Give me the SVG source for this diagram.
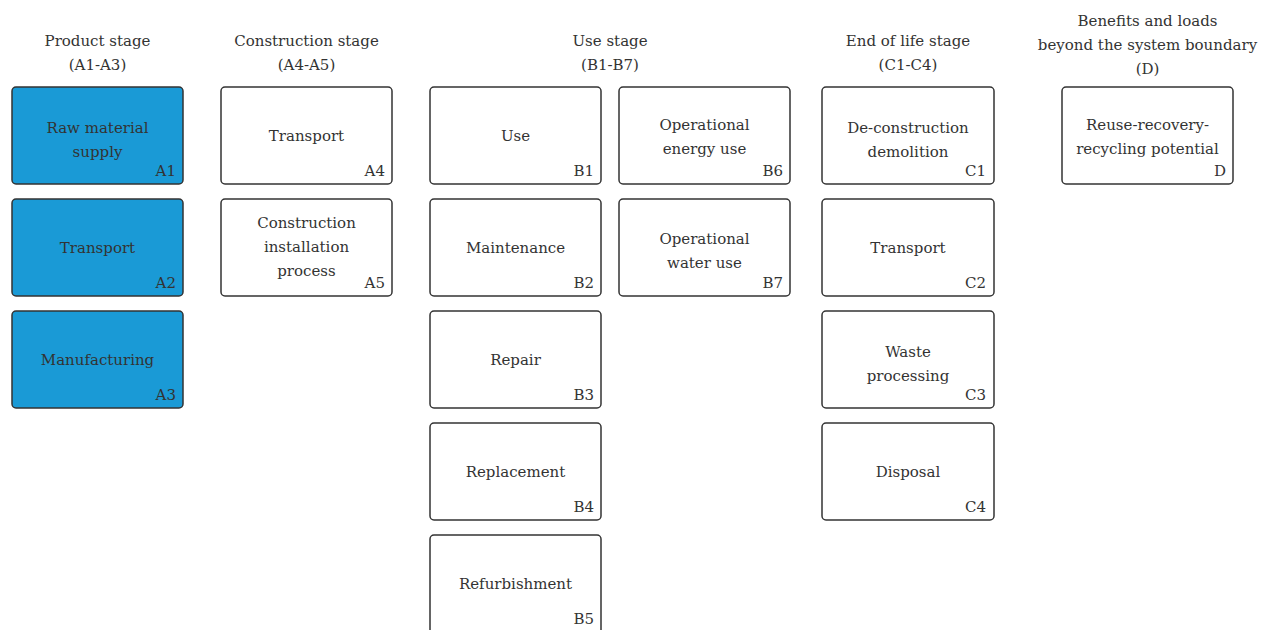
<svg xmlns="http://www.w3.org/2000/svg" width="1266" height="630" viewBox="0 0 1266 630">
<style>
text{font-family:"DejaVu Serif","Liberation Serif",serif;font-size:15px;fill:#333}
.h{text-anchor:middle}
.t{text-anchor:middle}
.c{text-anchor:end}
.b,.w{stroke:#333;stroke-width:1.5}
.b{fill:#1a9ad6}
.w{fill:#fff}
</style>
<rect x="0" y="0" width="1266" height="630" fill="#fff"/>
<g id="headers">
<text class="h" x="97.5" y="46">Product stage</text>
<text class="h" x="97.5" y="70">(A1-A3)</text>
<text class="h" x="306.5" y="46">Construction stage</text>
<text class="h" x="306.5" y="70">(A4-A5)</text>
<text class="h" x="610" y="46">Use stage</text>
<text class="h" x="610" y="70">(B1-B7)</text>
<text class="h" x="908" y="46">End of life stage</text>
<text class="h" x="908" y="70">(C1-C4)</text>
<text class="h" x="1147.5" y="26">Benefits and loads</text>
<text class="h" x="1147.5" y="50">beyond the system boundary</text>
<text class="h" x="1147.5" y="74">(D)</text>
</g>
<g id="A1"><rect class="b" x="12" y="87" width="171" height="97" rx="4"/><text class="t" x="97.5" y="133">Raw material</text><text class="t" x="97.5" y="157">supply</text><text class="c" x="176" y="176">A1</text></g>
<g id="A2"><rect class="b" x="12" y="199" width="171" height="97" rx="4"/><text class="t" x="97.5" y="253">Transport</text><text class="c" x="176" y="288">A2</text></g>
<g id="A3"><rect class="b" x="12" y="311" width="171" height="97" rx="4"/><text class="t" x="97.5" y="365">Manufacturing</text><text class="c" x="176" y="400">A3</text></g>
<g id="A4"><rect class="w" x="221" y="87" width="171" height="97" rx="4"/><text class="t" x="306.5" y="141">Transport</text><text class="c" x="385" y="176">A4</text></g>
<g id="A5"><rect class="w" x="221" y="199" width="171" height="97" rx="4"/><text class="t" x="306.5" y="228">Construction</text><text class="t" x="306.5" y="252">installation</text><text class="t" x="306.5" y="276">process</text><text class="c" x="385" y="288">A5</text></g>
<g id="B1"><rect class="w" x="430" y="87" width="171" height="97" rx="4"/><text class="t" x="515.5" y="141">Use</text><text class="c" x="594" y="176">B1</text></g>
<g id="B2"><rect class="w" x="430" y="199" width="171" height="97" rx="4"/><text class="t" x="515.5" y="253">Maintenance</text><text class="c" x="594" y="288">B2</text></g>
<g id="B3"><rect class="w" x="430" y="311" width="171" height="97" rx="4"/><text class="t" x="515.5" y="365">Repair</text><text class="c" x="594" y="400">B3</text></g>
<g id="B4"><rect class="w" x="430" y="423" width="171" height="97" rx="4"/><text class="t" x="515.5" y="477">Replacement</text><text class="c" x="594" y="512">B4</text></g>
<g id="B5"><rect class="w" x="430" y="535" width="171" height="110" rx="4"/><text class="t" x="515.5" y="589">Refurbishment</text><text class="c" x="594" y="624">B5</text></g>
<g id="B6"><rect class="w" x="619" y="87" width="171" height="97" rx="4"/><text class="t" x="704.5" y="130">Operational</text><text class="t" x="704.5" y="154">energy use</text><text class="c" x="783" y="176">B6</text></g>
<g id="B7"><rect class="w" x="619" y="199" width="171" height="97" rx="4"/><text class="t" x="704.5" y="244">Operational</text><text class="t" x="704.5" y="268">water use</text><text class="c" x="783" y="288">B7</text></g>
<g id="C1"><rect class="w" x="822" y="87" width="172" height="97" rx="4"/><text class="t" x="908" y="133">De-construction</text><text class="t" x="908" y="157">demolition</text><text class="c" x="986" y="176">C1</text></g>
<g id="C2"><rect class="w" x="822" y="199" width="172" height="97" rx="4"/><text class="t" x="908" y="253">Transport</text><text class="c" x="986" y="288">C2</text></g>
<g id="C3"><rect class="w" x="822" y="311" width="172" height="97" rx="4"/><text class="t" x="908" y="357">Waste</text><text class="t" x="908" y="381">processing</text><text class="c" x="986" y="400">C3</text></g>
<g id="C4"><rect class="w" x="822" y="423" width="172" height="97" rx="4"/><text class="t" x="908" y="477">Disposal</text><text class="c" x="986" y="512">C4</text></g>
<g id="D"><rect class="w" x="1062" y="87" width="171" height="97" rx="4"/><text class="t" x="1147.5" y="130">Reuse-recovery-</text><text class="t" x="1147.5" y="154">recycling potential</text><text class="c" x="1226" y="176">D</text></g>
<g id="connectors"></g>
</svg>
